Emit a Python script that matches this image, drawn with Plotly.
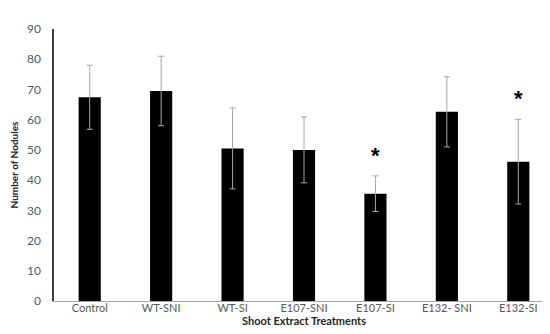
import plotly.graph_objects as go

categories = ["Control", "WT-SNI", "WT-SI", "E107-SNI", "E107-SI", "E132- SNI", "E132-SI"]
means = [67.4, 69.5, 50.5, 50.0, 35.5, 62.6, 46.1]
errors = [10.6, 11.5, 13.4, 10.9, 5.9, 11.6, 14.0]
significance = ["", "", "", "", "*", "", "*"]
y_ticks = [0, 10, 20, 30, 40, 50, 60, 70, 80, 90]

fig = go.Figure()
fig.add_trace(go.Bar(
    x=categories, y=means,
    marker=dict(color="black", line=dict(width=0)),
    width=0.31,
    error_y=dict(type="data", array=errors, visible=True, color="#a6a6a6", thickness=1, width=3),
))

for c, m, e, s in zip(categories, means, errors, significance):
    if s:
        fig.add_annotation(x=c, y=m + e, text="<b>" + s + "</b>", showarrow=False, yshift=6,
                           yanchor="bottom",
                           font=dict(size=22, color="#000000", family="Liberation Sans"))

fig.update_layout(
    width=550, height=334,
    margin=dict(l=46, r=4, t=21, b=41),
    paper_bgcolor="white", plot_bgcolor="white",
    showlegend=False,
    font=dict(family="Lato", color="#595959", size=11),
    xaxis=dict(showline=True, linecolor="#a6a6a6", linewidth=1, ticks="", showgrid=False,
               ticklabelstandoff=-3,
               title=dict(text="<b>Shoot Extract Treatments</b>", font=dict(size=11, color="#262626"), standoff=4),
               tickfont=dict(size=11, color="#595959")),
    yaxis=dict(range=[0, 90], tickvals=y_ticks, showline=True, linecolor="#404040", linewidth=1.5,
               ticks="", showgrid=False, zeroline=False, ticklabelstandoff=9,
               title=dict(text="<b>Number of Nodules</b>", font=dict(size=10, color="#262626"), standoff=8),
               tickfont=dict(size=12, color="#595959")),
)

fig.write_html("out.html")
